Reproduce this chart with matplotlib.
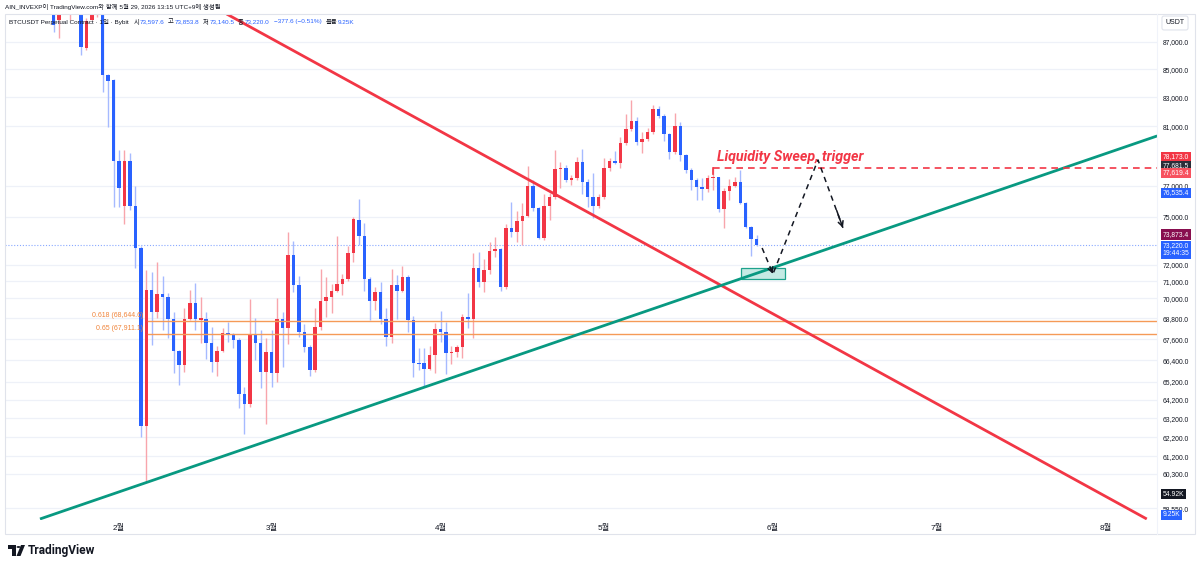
import matplotlib
matplotlib.use('Agg')
import matplotlib.pyplot as plt
import matplotlib.dates as mdates
import matplotlib.transforms as mtransforms
from matplotlib.patches import Rectangle, Polygon, Circle
from matplotlib.ticker import NullLocator, FixedLocator
from matplotlib import font_manager
import pandas as pd
import numpy as np

_names = {f.name for f in font_manager.fontManager.ttflist}
if 'Liberation Sans Narrow' in _names:
    UI_FONT = ['Liberation Sans Narrow', 'Noto Sans CJK KR', 'DejaVu Sans']
    K = 1.22
else:
    UI_FONT = ['Liberation Sans', 'Noto Sans CJK KR', 'DejaVu Sans']
    K = 1.0
plt.rcParams['font.family'] = UI_FONT

# ---------------- data (daily candles, 2026-01-20 .. 2026-05-29) ----------------
start_date = '2026-01-20'
opens = [89800, 88640, 89700, 89300, 89800, 90100, 86560, 88640, 89400, 89900, 84600, 84240,
         78640, 75700, 78640, 75700, 73040, 62800, 70480, 69180, 70240, 70060, 68770, 66920,
         66140, 68770, 69710, 68710, 68770, 67380, 66310, 66920, 67960, 67840, 67550, 64530,
         63980, 67900, 67380, 65750,
         66870, 65690, 68770, 68250, 72610, 70780, 68010, 67150, 65860, 68300, 69830, 70060,
         70420, 70840, 71140, 72730, 74800, 73790, 71140, 69830, 70360, 68770, 67720, 70780,
         70420, 71260, 68710, 66250, 66250, 65910, 66700,
         68190, 68010, 66810, 66870, 67150, 68890, 68770, 71810, 70960, 71690, 72860, 72980,
         70660, 74300, 74040, 74740, 75060, 76990, 75570, 73670, 75700, 76280, 78110, 78170,
         77380, 77510, 78580, 77250, 76280, 75700,
         76280, 78170, 78640, 78510, 79850, 80810, 81360, 79920, 80120, 80600, 82190, 81710,
         80460, 79250, 81020, 79040, 78040, 77380, 76920, 76790, 77510, 77580, 75500, 76660,
         76990, 77250, 75890, 74360, 73597.6]
highs = [90300, 90400, 90600, 90100, 90500, 90300, 88790, 90000, 90300, 90100, 84670, 84310,
         79380, 79380, 79180, 76990, 73170, 71690, 71570, 72180, 71320, 70300, 69180, 66980,
         69420, 70480, 70900, 70060, 69180, 68300, 67210, 68250, 68600, 67960, 67670, 64910,
         69950, 68830, 68130, 67670,
         68130, 70010, 69180, 74040, 73480, 71320, 68480, 67270, 69420, 71750, 71260, 70840,
         73790, 71450, 73170, 74990, 76140, 74610, 71260, 70660, 70960, 69420, 71750, 71380,
         71930, 71380, 68940, 67090, 67090, 67210, 68540,
         69240, 68600, 67210, 67270, 69060, 70300, 72730, 72790, 72360, 73420, 73730, 73050,
         74550, 75950, 75380, 75890, 78310, 77380, 75630, 76470, 76540, 79380, 78580, 78380,
         77710, 78910, 79450, 77450, 77840, 76470,
         78840, 78840, 79310, 80260, 81840, 82820, 81640, 80600, 80880, 82470, 82400, 81840,
         80530, 81910, 81290, 79110, 78170, 77510, 77510, 77710, 78170, 77580, 76860, 77450,
         77580, 78040, 75950, 74420, 73853.8]
lows = [87740, 87300, 89350, 88640, 89400, 86050, 86410, 88640, 88870, 83390, 80950, 75630,
        75630, 74550, 75440, 71810, 62220, 59890, 67270, 68830, 68130, 67670, 65690, 65030,
        65750, 68710, 68130, 67380, 66480, 65750, 65520, 66870, 67440, 67090, 63770, 62380,
        63820, 66420, 64860, 62910,
        64910, 65190, 66030, 67320, 70360, 67720, 66870, 65520, 65750, 68130, 68890, 69120,
        70360, 70180, 71020, 72180, 73230, 70420, 68710, 69300, 68480, 67210, 67380, 68770,
        70360, 68010, 65470, 65860, 64910, 65860, 65690,
        67440, 65640, 66200, 66590, 66530, 68250, 67670, 70660, 70360, 71450, 72490, 70420,
        70540, 73730, 73420, 73230, 74990, 75380, 73600, 73540, 74800, 76150, 76860, 77250,
        77060, 77380, 76470, 75630, 74930, 75570,
        76150, 77970, 78440, 78170, 79720, 80670, 79720, 79180, 79990, 80460, 81570, 79980,
        78780, 79110, 78640, 77840, 76730, 76080, 76080, 76600, 76730, 75310, 74300, 76080,
        76920, 75820, 74300, 72550, 73140.5]
closes = [88260, 89700, 89500, 89800, 90100, 86630, 88570, 89500, 89900, 84600, 84170, 78640,
          76860, 78640, 75700, 73040, 62800, 70480, 69180, 70240, 70060, 68770, 66920, 66140,
          68770, 69710, 68770, 68800, 67380, 66310, 66920, 67960, 67840, 67550, 64530, 63980,
          67900, 67380, 65750, 66870,
          65690, 68770, 68250, 72610, 70780, 68010, 67150, 65860, 68300, 69830, 70060, 70420,
          70840, 71140, 72730, 74860, 73790, 71140, 69830, 70360, 68770, 67720, 70780, 70420,
          71260, 68710, 66250, 66200, 65910, 66700, 68190,
          68010, 66810, 66870, 67150, 68890, 68770, 71810, 70960, 71690, 72860, 72980, 70660,
          74300, 74040, 74740, 75060, 76990, 75570, 73670, 75700, 76280, 78110, 78170, 77380,
          77510, 78580, 77250, 76280, 75700, 76280,
          78170, 78640, 78510, 79850, 80810, 81360, 79920, 80120, 80600, 82190, 81710, 80460,
          79250, 81020, 79040, 78040, 77380, 76920, 76790, 77510, 77580, 75500, 76660, 76990,
          77250, 75890, 74360, 73600, 73220.0]

month_ticks = ['2026-02-01', '2026-03-01', '2026-04-01', '2026-05-01', '2026-06-01', '2026-07-01', '2026-08-01']
month_labels = ['2월', '3월', '4월', '5월', '6월', '7월', '8월']
price_ticks = [58550, 60300, 61200, 62200, 63200, 64200, 65200, 66400, 67600, 68800,
               70000, 71000, 72000, 75000, 77000, 81000, 83000, 85000, 87000]

# drawings (date, price)
red_line_dates = ['2026-02-20 18:00', '2026-08-08 14:00']
red_line_prices = [89090, 58030]
green_line_dates = ['2026-01-17 12:00', '2026-08-10 12:00']
green_line_prices = [58030, 80330]
fib_start = '2026-02-06 07:00'
fib_levels = [68644.6, 67911.1]
fib_labels = ['0.618 (68,644.6)', '0.65 (67,911.1)']
sweep_start = '2026-05-21'
sweep_price = 78173.0
path_dates = ['2026-05-30 00:00', '2026-06-01 00:00', '2026-06-09 06:00', '2026-06-13 20:00']
path_prices = [73040, 71450, 78710, 74300]
box_dates = ['2026-05-26 03:00', '2026-06-03 05:00']
box_prices = [71140, 71810]
last_close = 73220.0

# ---------------- figure ----------------
W, H = 1200, 567
fig = plt.figure(figsize=(12, 5.67), dpi=100)
fig.patch.set_facecolor('white')
def fx(p): return p / W
def fy(p): return 1 - p / H

ax = fig.add_axes([fx(5), fy(520), fx(1157) - fx(5), fy(14) - fy(520)])
ax.set_yscale('log')
feb1 = mdates.date2num(pd.Timestamp('2026-02-01'))
ax.set_xlim(feb1 - 20.92, feb1 + 190.46)
ax.set_ylim(57980, 89090)
for s in ax.spines.values():
    s.set_visible(False)

dates = pd.date_range(start_date, periods=len(opens), freq='D')
xd = mdates.date2num(dates)
o = np.array(opens, float); h = np.array(highs, float)
l = np.array(lows, float); c = np.array(closes, float)
up = c >= o
body_col = np.where(up, '#F23645', '#2962FF')
wick_col = np.where(up, '#F8A5AC', '#A6BAFF')
ax.vlines(xd, l, h, colors=wick_col, lw=1.0, zorder=3)
bot = np.minimum(o, c); top = np.maximum(o, c)
hgt = np.maximum(top - bot, top * 0.0009)
ax.bar(xd, hgt, bottom=bot, width=0.64, color=body_col, linewidth=0, zorder=4)

# grid / ticks
FS = 4.9 * K
ax.yaxis.tick_right()
ax.yaxis.set_major_locator(FixedLocator(price_ticks))
ax.yaxis.set_minor_locator(NullLocator())
ax.set_yticklabels([f'{p:,.1f}' for p in price_ticks])
ax.tick_params(axis='y', length=0, pad=4.3, labelsize=FS, labelcolor='#131722')
ax.set_xticks(mdates.date2num(pd.to_datetime(month_ticks)))
ax.set_xticklabels(month_labels)
ax.tick_params(axis='x', length=0, pad=3.0, labelsize=5.9, labelcolor='#131722')
ax.grid(axis='y', color='#EEF1F8', lw=0.9, zorder=0)
ax.set_axisbelow(True)

# current price dotted line
ax.axhline(last_close, color='#2962FF', lw=0.8, ls=(0, (1, 1.6)), alpha=0.55, zorder=2)

# trend lines
ax.plot(mdates.date2num(pd.to_datetime(red_line_dates)), red_line_prices, color='#F23645', lw=2.0, zorder=6, solid_capstyle='butt')
ax.plot(mdates.date2num(pd.to_datetime(green_line_dates)), green_line_prices, color='#089981', lw=2.0, zorder=6, solid_capstyle='butt')

# fib lines
fs = mdates.date2num(pd.Timestamp(fib_start))
xr = ax.get_xlim()[1]
for lv, lb in zip(fib_levels, fib_labels):
    ax.plot([fs, xr], [lv, lv], color='#F59A57', lw=1.0, zorder=5)
    ax.annotate(lb, xy=(fs, lv), xytext=(-3.5, 1.2), textcoords='offset points', ha='right', va='bottom',
                fontsize=5.0 * K, color='#F0843A', zorder=7)

# liquidity sweep dashed line + text
ss = mdates.date2num(pd.Timestamp(sweep_start))
ax.plot([ss, xr], [sweep_price, sweep_price], color='#F23645', lw=1.2, ls=(0, (4, 3)), zorder=6)
ax.plot([ss, ss], [sweep_price, sweep_price * 0.995], color='#F23645', lw=1.2, zorder=6)
ax.annotate('Liquidity Sweep, trigger', xy=(ss, sweep_price), xytext=(3, 7.9), textcoords='offset points',
            ha='left', va='center', fontsize=10.3, color='#F23645', fontweight='bold', fontstyle='italic',
            family=['Roboto', 'DejaVu Sans'], zorder=8)

# teal box
bx = mdates.date2num(pd.to_datetime(box_dates))
ax.add_patch(Rectangle((bx[0], box_prices[0]), bx[1] - bx[0], box_prices[1] - box_prices[0],
                       facecolor='#BFE8E2', edgecolor='#089981', lw=0.9, zorder=5, alpha=0.9))

# dashed projection path
px = mdates.date2num(pd.to_datetime(path_dates))
ax.plot(px, path_prices, color='#131722', lw=1.1, ls=(0, (3.5, 3)), zorder=7)
for i in (1, 3):
    ax.annotate('', xy=(px[i], path_prices[i]), xytext=(px[i] - (px[i] - px[i - 1]) * 0.25,
                path_prices[i] - (path_prices[i] - path_prices[i - 1]) * 0.25),
                arrowprops=dict(arrowstyle='->', color='#131722', lw=1.1, shrinkA=0, shrinkB=0,
                                mutation_scale=9), zorder=7)

# right price tags
trans = mtransforms.blended_transform_factory(ax.transAxes, ax.transData)
def tag(price, text, fc, dy_px=0, tc='white'):
    ax.annotate(text, xy=(1, price), xycoords=trans, xytext=(4.0, dy_px * 0.72),
                textcoords='offset points', ha='left', va='center', fontsize=FS, color=tc,
                linespacing=1.15,
                bbox=dict(boxstyle='square,pad=0.25', fc=fc, ec='none'), annotation_clip=False, zorder=20)
tag(78173.0, '78,173.0', '#F23645', 11)
tag(77681.5, '77,681.5', '#2A2E39', 9.5)
tag(77619.4, '77,619.4', '#F7525F', 3.4)
tag(76535.4, '76,535.4', '#2962FF')
tag(73873.4, '73,873.4', '#880E4F')
tag(73220.0, '73,220.0\n19:44:35', '#2962FF', -4.5)

def vtag(frac, text, fc):
    ax.annotate(text, xy=(1, frac), xycoords='axes fraction', xytext=(4.0, 0), textcoords='offset points',
                ha='left', va='center', fontsize=FS, color='white',
                bbox=dict(boxstyle='square,pad=0.25', fc=fc, ec='none'), annotation_clip=False, zorder=20)
vtag((520 - 494) / 506, '54.92K', '#131722')
vtag((520 - 515) / 506, '9.25K', '#2962FF')

# USDT box
fig.text(fx(1175), fy(23), 'USDT', fontsize=5.0 * K, color='#131722', ha='center', va='center',
         bbox=dict(boxstyle='round,pad=0.5,rounding_size=0.3', fc='white', ec='#E0E3EB', lw=0.8))

# frame
fig.add_artist(Rectangle((fx(5), fy(534)), fx(1195) - fx(5), fy(14) - fy(534), transform=fig.transFigure,
                         fill=False, ec='#E0E3EB', lw=0.8))
fig.add_artist(matplotlib.lines.Line2D([fx(1157), fx(1157)], [fy(14), fy(534)], transform=fig.transFigure,
                                       color='#F0F3FA', lw=0.8))

# header lines
HFS = 4.6 * K
fig.text(fx(5), fy(7), 'AIN_INVEXP이 TradingView.com와 함께 5월 29, 2026 13:15 UTC+9에 생성됨',
         fontsize=HFS, color='#131722', ha='left', va='center')
fig.canvas.draw()
rend = fig.canvas.get_renderer()
pieces = [('BTCUSDT Perpetual Contract · 1일 · Bybit', '#131722', 4.5),
          ('시', '#131722', 0.8), ('73,597.6', '#2962FF', 3.5),
          ('고', '#131722', 0.8), ('73,853.8', '#2962FF', 3.5),
          ('저', '#131722', 0.8), ('73,140.5', '#2962FF', 3.5),
          ('종', '#131722', 0.8), ('73,220.0', '#2962FF', 4.0),
          ('−377.6 (−0.51%)', '#2962FF', 4.0),
          ('볼륨', '#131722', 0.8), ('9.25K', '#2962FF', 0)]
xx = 9.0
for txt, col, gap in pieces:
    t = fig.text(fx(xx), fy(22), txt, fontsize=HFS, color=col, ha='left', va='center', zorder=30)
    bb = t.get_window_extent(renderer=rend)
    xx = bb.x1 + gap

# TradingView logo
fig.add_artist(Polygon([(fx(8), fy(545)), (fx(16), fy(545)), (fx(16), fy(556)), (fx(12), fy(556)),
                        (fx(12), fy(549)), (fx(8), fy(549))], closed=True, transform=fig.transFigure,
                       fc='#131722', ec='none'))
fig.add_artist(Circle((fx(18.5), fy(547)), 2.0 / W, transform=fig.transFigure, fc='#131722', ec='none'))
fig.add_artist(Polygon([(fx(21), fy(545)), (fx(25), fy(545)), (fx(20.5), fy(556)), (fx(16.5), fy(556))],
                       closed=True, transform=fig.transFigure, fc='#131722', ec='none'))
fig.text(fx(28), fy(550.5), 'TradingView', fontsize=8.6, fontweight='bold', color='#131722',
         ha='left', va='center', family=['Roboto', 'DejaVu Sans'])

fig.savefig('out.png', dpi=100, facecolor='white')
